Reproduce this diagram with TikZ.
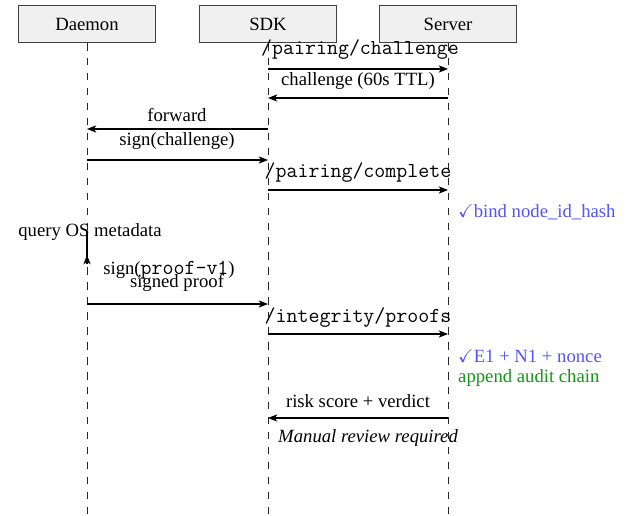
\documentclass[tikz,border=0pt]{standalone}
\usepackage{fontspec}
\setmainfont{Liberation Serif}
\usepackage{amssymb}
\usetikzlibrary{arrows.meta}
\definecolor{checkblue}{RGB}{85,85,245}
\definecolor{auditgreen}{RGB}{20,150,20}
% light monospaced face for endpoints and identifiers
\newcommand\ident[1]{{\fontsize{11.4}{13}\selectfont\ttfamily #1}}
\begin{document}
\begin{tikzpicture}[x=0.535pt,y=-0.535pt,
  actor/.style={draw=black!75, fill=black!6, minimum width=73pt, minimum height=20pt, inner sep=0pt},
  life/.style={black!85, dash pattern=on 4pt off 4pt},
  msg/.style={line width=0.55pt, -{Stealth[length=5pt,width=3.9pt,inset=1.4pt]}},
  lbl/.style={inner sep=1pt},
  note/.style={inner sep=1pt, anchor=west}
]
\useasboundingbox (0,0) rectangle (634,516);

% participants
\node[actor] (d) at (87,24) {Daemon};
\node[actor] (s) at (268,24) {SDK};
\node[actor] (v) at (448,24) {Server};

% lifelines
\coordinate (bot) at (0,516);
\draw[life] (d.south) -- (d |- bot);
\draw[life] (s.south) -- (s |- bot);
\draw[life] (v.south) -- (v |- bot);

% message rows
\coordinate (m1) at (0,69);
\coordinate (m2) at (0,98);
\coordinate (m3) at (0,129);
\coordinate (m4) at (0,160);
\coordinate (m5) at (0,190);
\coordinate (q1) at (0,231);
\coordinate (q2) at (0,264);
\coordinate (q3) at (0,255);
\coordinate (m6) at (0,304);
\coordinate (m7) at (0,334);
\coordinate (m8) at (0,418);

% pairing
\draw[msg] (s |- m1) -- (v |- m1);
\node[lbl] (t1) at (360,50) {\ident{/pairing/challenge}};
\draw[msg] (v |- m2) -- (s |- m2);
\node[lbl] (t2) at (358,81) {challenge (60s TTL)};
\draw[msg] (s |- m3) -- (d |- m3);
\node[lbl] (t3) at (177,115) {forward};
\draw[msg] (d |- m4) -- (s |- m4);
\node[lbl] (t4) at (177,141) {sign(challenge)};
\draw[msg] (s |- m5) -- (v |- m5);
\node[lbl] (t5) at (358,173) {\ident{/pairing/complete}};
\node[note, text=checkblue] (n1) at (456,212) {$\checkmark$bind node\_id\_hash};

% integrity proof
\node[lbl] (t6) at (90,232) {query OS metadata};
\draw[msg] (d |- q1) -- (d |- q2) -- (d |- q3);
\node[lbl] (t7) at (169,270) {sign(\ident{proof-v1})};
\node[lbl] (t8) at (177,283) {signed proof};
\draw[msg] (d |- m6) -- (s |- m6);
\draw[msg] (s |- m7) -- (v |- m7);
\node[lbl] (t9) at (358,318) {\ident{/integrity/proofs}};
\node[note, text=checkblue] (n2) at (456,356) {$\checkmark$E1 + N1 + nonce};
\node[note, text=auditgreen] (n3) at (456,378) {append audit chain};

% verdict
\draw[msg] (v |- m8) -- (s |- m8);
\node[lbl] (t10) at (358,401) {risk score + verdict};
\node[note] (n4) at (276,438) {\itshape Manual review required};
\end{tikzpicture}
\end{document}
